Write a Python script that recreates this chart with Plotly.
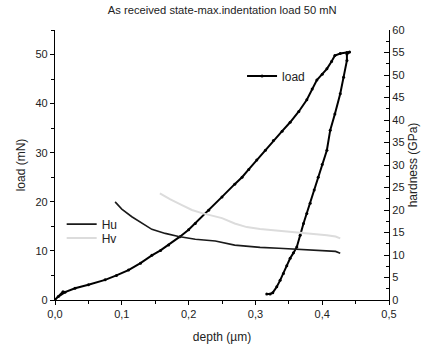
import plotly.graph_objects as go

depth_load = [0.012, 0.0, 0.005, 0.015, 0.03, 0.05, 0.075, 0.092, 0.11, 0.128, 0.145, 0.158, 0.17,
              0.187, 0.2, 0.21, 0.23, 0.25, 0.269, 0.28, 0.29, 0.302, 0.315, 0.327, 0.34, 0.352,
              0.365, 0.377, 0.385, 0.392, 0.4, 0.407, 0.414, 0.419, 0.427, 0.437, 0.441,
              0.437, 0.437, 0.432, 0.427, 0.419, 0.412, 0.407, 0.4, 0.394, 0.388, 0.382,
              0.377, 0.372, 0.367, 0.362, 0.357, 0.352, 0.347, 0.342, 0.337, 0.332, 0.326, 0.322, 0.317]
load_mN = [1.7, 0.05, 0.7, 1.6, 2.4, 3.1, 4.1, 5.0, 6.1, 7.5, 9.1, 10.1, 11.2,
           12.9, 14.3, 15.6, 18.3, 21.0, 23.6, 25.0, 26.6, 28.5, 30.5, 32.5, 34.4, 36.2,
           38.4, 40.8, 43.0, 44.8, 46.0, 47.1, 48.6, 49.8, 50.2, 50.4, 50.5,
           50.1, 48.8, 45.4, 42.0, 37.9, 34.6, 30.5, 27.6, 25.0, 22.4, 19.7,
           17.6, 15.6, 13.2, 10.8, 9.6, 8.5, 7.0, 5.4, 4.0, 2.7, 1.5, 1.2, 1.2]

depth_Hu = [0.09, 0.1, 0.115, 0.13, 0.145, 0.165, 0.185, 0.21, 0.24, 0.269, 0.307, 0.335, 0.362,
            0.385, 0.407, 0.42, 0.427]
Hu_GPa = [21.8, 20.2, 18.5, 17.0, 15.7, 14.8, 14.1, 13.5, 13.1, 12.2, 11.7, 11.5, 11.3,
          11.2, 11.0, 10.8, 10.4]

depth_Hv = [0.157, 0.172, 0.19, 0.205, 0.22, 0.235, 0.25, 0.269, 0.287, 0.307, 0.335, 0.367,
            0.39, 0.407, 0.42, 0.427]
Hv_GPa = [23.7, 22.4, 21.1, 20.0, 19.3, 18.7, 18.2, 17.0, 16.2, 15.8, 15.4, 15.0,
          14.7, 14.4, 14.1, 13.7]

x_ticks = [0.0, 0.1, 0.2, 0.3, 0.4, 0.5]
x_labels = ["0,0", "0,1", "0,2", "0,3", "0,4", "0,5"]

font = "Liberation Sans, Arial, sans-serif"
ink = "#222222"

fig = go.Figure()
fig.add_trace(go.Scatter(x=depth_load, y=load_mN, name="load", mode="lines+markers",
                         line=dict(color="black", width=2), marker=dict(size=3, color="black"),
                         legend="legend"))
fig.add_trace(go.Scatter(x=depth_Hu, y=Hu_GPa, name="Hu", mode="lines", yaxis="y2",
                         line=dict(color="#1a1a1a", width=1.6), legend="legend2"))
fig.add_trace(go.Scatter(x=depth_Hv, y=Hv_GPa, name="Hv", mode="lines", yaxis="y2",
                         line=dict(color="#dcdcdc", width=2), legend="legend3"))

leg = dict(xanchor="left", yanchor="middle", bgcolor="rgba(0,0,0,0)", font=dict(size=12), itemwidth=30)

fig.update_layout(
    width=425, height=347,
    margin=dict(l=55, r=36, t=30, b=47, autoexpand=False),
    paper_bgcolor="white", plot_bgcolor="white",
    font=dict(family=font, size=11, color=ink),
    title=dict(text="As received state-max.indentation load 50 mN", x=0.523, xanchor="center",
               y=0.972, yanchor="middle", font=dict(size=11.2, color=ink)),
    xaxis=dict(range=[0, 0.5], tickvals=x_ticks, ticktext=x_labels, showline=True, linecolor="black",
               linewidth=1.2, ticks="outside", ticklen=4, tickcolor="black", showgrid=False, zeroline=False,
               automargin=False,
               minor=dict(dtick=0.05, ticks="outside", ticklen=3, tickcolor="black"),
               title=dict(text="depth (µm)", font=dict(size=12), standoff=13)),
    yaxis=dict(range=[0, 55], dtick=10, showline=True, linecolor="black", linewidth=1.2,
               ticks="outside", ticklen=4, tickcolor="black", showgrid=False, zeroline=False,
               automargin=False,
               minor=dict(dtick=5, ticks="outside", ticklen=3, tickcolor="black"),
               title=dict(text="load (mN)", font=dict(size=12), standoff=7)),
    yaxis2=dict(range=[0, 60], dtick=5, overlaying="y", side="right", showline=True, linecolor="black",
                linewidth=1.2, ticks="inside", ticklen=5, tickcolor="black", showgrid=False, zeroline=False,
                automargin=False,
                minor=dict(dtick=2.5, ticks="inside", ticklen=3, tickcolor="black"),
                title=dict(text="hardness (GPa)", font=dict(size=12), standoff=5)),
    legend=dict(x=0.56, y=0.83, **leg),
    legend2=dict(x=0.02, y=0.281, **leg),
    legend3=dict(x=0.02, y=0.230, **leg),
    showlegend=True,
)

fig.write_html("out.html")
